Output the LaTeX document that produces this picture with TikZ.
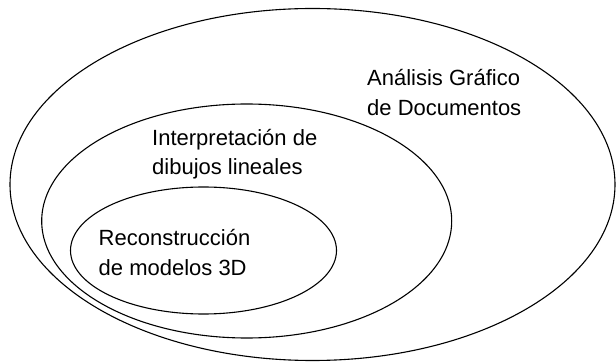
\documentclass[tikz,border=0pt]{standalone}
\usepackage{fontspec}
\setmainfont{Liberation Sans}
\begin{document}
\begin{tikzpicture}[x=1pt,y=-1pt,
  setline/.style={draw=black,line width=1.1pt},
  lbl/.style={inner sep=0pt,align=left,anchor=base west,
    font=\fontsize{22}{29.5}\selectfont}]
\useasboundingbox (0,0) rectangle (616,363);
\draw[setline] (312.5,184.5) ellipse [x radius=302.5, y radius=176];
\draw[setline] (246.7,221) ellipse [x radius=205, y radius=117];
\draw[setline] (203.5,250.5) ellipse [x radius=133, y radius=63.5];
\node[lbl] (adg) at (367,115.5) {Análisis Gráfico\\de Documentos};
\node[lbl] (idl) at (152,175) {Interpretación de\\dibujos lineales};
\node[lbl] (rm3) at (98.5,275.5) {Reconstrucción\\de modelos 3D};
\end{tikzpicture}
\end{document}
